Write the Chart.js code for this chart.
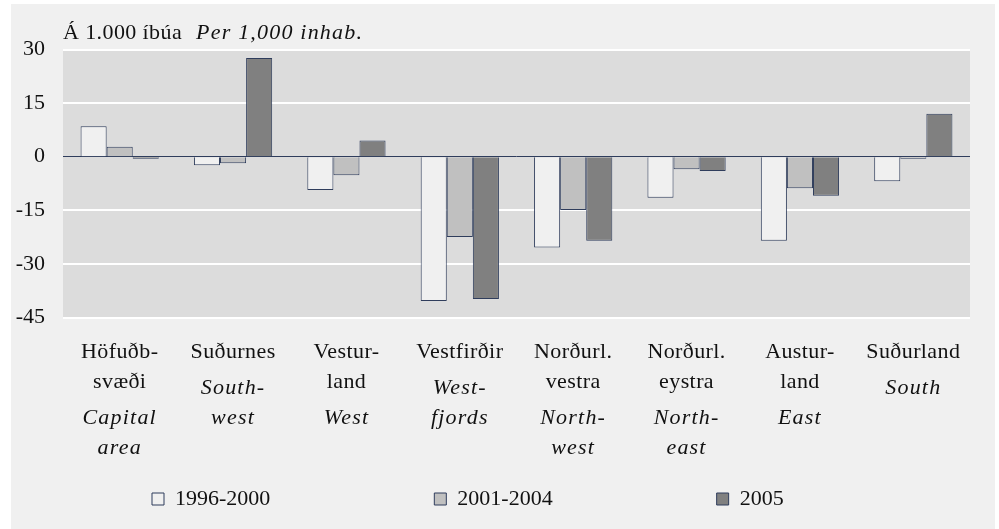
<!DOCTYPE html>
<html>
<head>
<meta charset="utf-8">
<title>Búferlaflutningar</title>
<script src="https://cdn.jsdelivr.net/npm/chart.js@4.4.0/dist/chart.umd.min.js"></script>
<style>
  html, body { margin: 0; background: #fff; }
  #panel {
    position: absolute; left: 11px; top: 4px;
    width: 984px; height: 525px; background: #f0f0f0;
  }
  canvas { display: block; }
</style>
</head>
<body>
<div id="panel"><canvas id="chart" width="984" height="525"></canvas></div>

<script>
/* --------------------------------------------------------
   Data  –  net migration per 1,000 inhabitants by region
   -------------------------------------------------------- */
const regionsIs = [
  ['Höfuðb-', 'svæði'], ['Suðurnes'], ['Vestur-', 'land'], ['Vestfirðir'],
  ['Norðurl.', 'vestra'], ['Norðurl.', 'eystra'], ['Austur-', 'land'], ['Suðurland']
];
const regionsEn = [
  ['Capital', 'area'], ['South-', 'west'], ['West'], ['West-', 'fjords'],
  ['North-', 'west'], ['North-', 'east'], ['East'], ['South']
];
const seriesNames = ['1996-2000', '2001-2004', '2005'];
const v1996_2000 = [8.5, -2.4, -9.3, -40.4, -25.4, -11.5, -23.5, -6.9];
const v2001_2004 = [2.8, -1.8, -5.2, -22.5, -14.9, -3.5, -8.8, -0.6];
const v2005      = [-0.6, 27.6, 4.5, -39.8, -23.5, -4.0, -10.9, 12.0];
const yTicks = [-45, -30, -15, 0, 15, 30];

const titleIs = 'Á 1.000 íbúa';
const titleEn = 'Per 1,000 inhab.';

/* ---------- look ---------- */
const FONT = '"Liberation Serif", "Times New Roman", serif';
const EDGE = '#2f3d5c';
const LINE_H = 30;       // label line height
const LABEL_TOP = 34.5;  // first label line below the plot

/* plot area background */
const plotBg = {
  id: 'plotBg',
  beforeDraw(chart) {
    const { ctx, chartArea: a } = chart;
    ctx.save();
    ctx.fillStyle = '#dcdcdc';
    ctx.fillRect(a.left, a.top, a.right - a.left, a.bottom - a.top);
    ctx.restore();
  }
};

/* heading + two-language region names (mixed upright / italic) */
const extraText = {
  id: 'extraText',
  afterDraw(chart) {
    const { ctx, chartArea: a } = chart;
    const x = chart.scales.x;
    const upright = () => { ctx.font = `22px ${FONT}`; ctx.letterSpacing = '0.4px'; };
    const italic = () => { ctx.font = `italic 22px ${FONT}`; ctx.letterSpacing = '1.2px'; };
    ctx.save();
    ctx.fillStyle = '#111';
    ctx.textBaseline = 'middle';
    ctx.textAlign = 'left';

    upright();
    const ty = a.top - 16.5;
    ctx.fillText(titleIs, a.left, ty);
    const w = ctx.measureText(titleIs).width;
    italic();
    ctx.fillText(titleEn, a.left + w + 14, ty);

    ctx.textAlign = 'center';
    regionsIs.forEach((lines, i) => {
      const px = x.getPixelForValue(i);
      const y0 = x.top + LABEL_TOP;
      upright();
      lines.forEach((t, j) => ctx.fillText(t, px, y0 + j * LINE_H));
      const y1 = y0 + (lines.length - 1) * LINE_H + 36;
      italic();
      regionsEn[i].forEach((t, j) => ctx.fillText(t, px, y1 + j * LINE_H));
    });
    ctx.restore();
  }
};

function ds(label, data, color) {
  return {
    label,
    data,
    backgroundColor: color,
    borderColor: EDGE,
    borderWidth: 1,
    categoryPercentage: 0.69,
    barPercentage: 1
  };
}

new Chart(document.getElementById('chart'), {
  type: 'bar',
  data: {
    labels: regionsIs.map(l => l.join(' ')),
    datasets: [
      ds(seriesNames[0], v1996_2000, '#f0f0f0'),
      ds(seriesNames[1], v2001_2004, '#c0c0c0'),
      ds(seriesNames[2], v2005, '#808080')
    ]
  },
  options: {
    responsive: false,
    animation: false,
    layout: { padding: { top: 45.5, left: -23, right: 25, bottom: 9 } },
    plugins: {
      tooltip: { enabled: false },
      legend: {
        position: 'bottom',
        align: 'start',
        labels: {
          boxWidth: 12,
          boxHeight: 12,
          padding: 164,
          color: '#111',
          font: { family: FONT, size: 22 }
        }
      }
    },
    scales: {
      x: {
        grid: { display: false },
        border: { display: false },
        ticks: { display: false },
        afterFit: s => { s.height = 6.5; }
      },
      y: {
        min: yTicks[0],
        max: yTicks[yTicks.length - 1],
        afterBuildTicks: s => { s.ticks = yTicks.map(v => ({ value: v })); },
        grid: {
          drawTicks: false,
          color: c => (c.tick.value === 0 ? EDGE : '#ffffff'),
          lineWidth: c => (c.tick.value === 0 ? 1 : 2)
        },
        border: { display: false },
        ticks: {
          padding: 18,
          color: '#111',
          font: { family: FONT, size: 22 }
        },
        afterFit: s => { s.width = 75; }
      }
    }
  },
  plugins: [plotBg, extraText]
});
</script>
</body>
</html>
